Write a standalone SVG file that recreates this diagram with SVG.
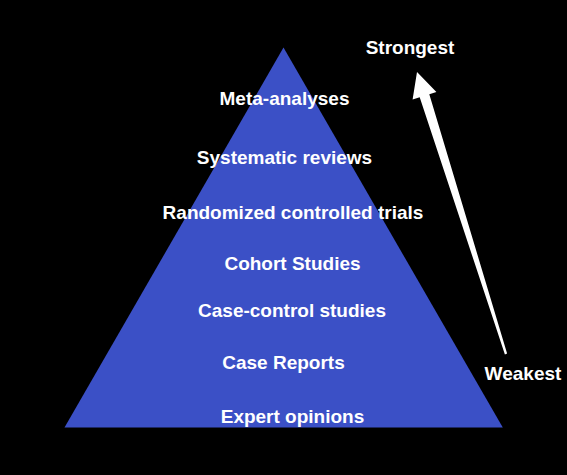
<svg xmlns="http://www.w3.org/2000/svg" width="567" height="475" viewBox="0 0 567 475">
<style>
.lbl{font-family:"Liberation Sans",Arial,sans-serif;font-weight:bold;font-size:19px;fill:#ffffff;text-anchor:middle}
</style>
<rect x="0" y="0" width="567" height="475" fill="#000000"/>
<g id="pyramid">
<polygon points="283.5,47.5 64.5,427.5 502.8,427.5" fill="#3b50c6"/>
</g>
<g id="levels">
<g id="meta"><text class="lbl" x="284.5" y="105">Meta-analyses</text></g>
<g id="systematic"><text class="lbl" x="284.5" y="164">Systematic reviews</text></g>
<g id="rct"><text class="lbl" x="293" y="219">Randomized controlled trials</text></g>
<g id="cohort"><text class="lbl" x="292.5" y="270">Cohort Studies</text></g>
<g id="casecontrol"><text class="lbl" x="292" y="317">Case-control studies</text></g>
<g id="casereports"><text class="lbl" x="283.5" y="369">Case Reports</text></g>
<g id="expert"><text class="lbl" x="292.5" y="423">Expert opinions</text></g>
</g>
<g id="connectors">
<polygon points="417,72 436.4,92 429.3,94.3 507.1,353.6 504.9,354.4 419.7,97.3 412.6,99.6" fill="#ffffff"/>
</g>
<g id="strongest"><text class="lbl" x="410" y="54">Strongest</text></g>
<g id="weakest"><text class="lbl" x="523" y="380">Weakest</text></g>
</svg>
